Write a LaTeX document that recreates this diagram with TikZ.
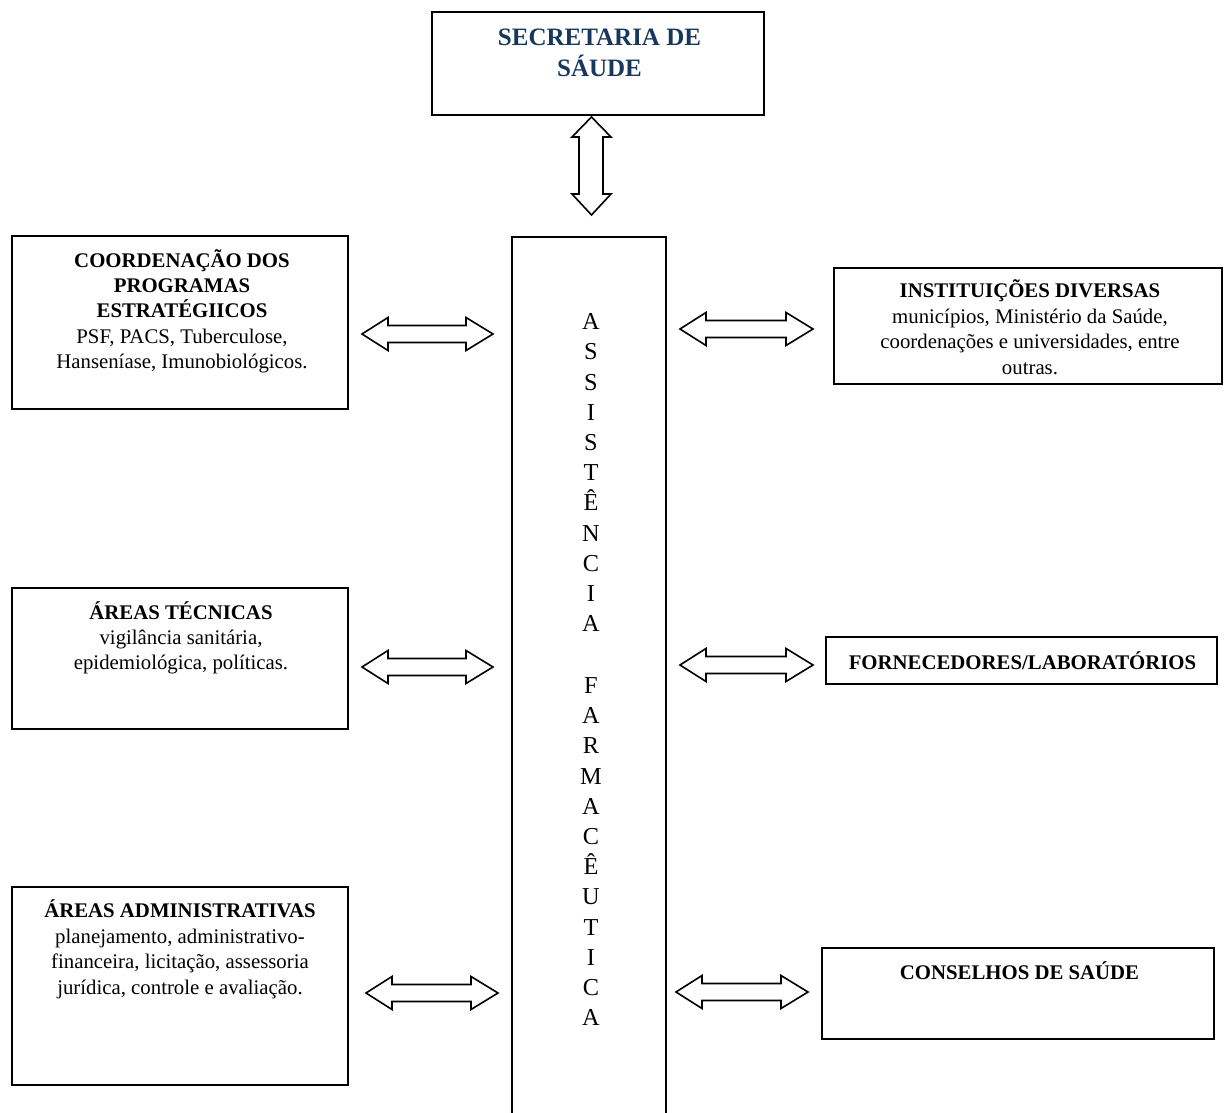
\documentclass[tikz,border=0pt]{standalone}
\usepackage{fontspec}
\setmainfont{Liberation Serif}
\usetikzlibrary{calc,positioning}
\definecolor{titleblue}{RGB}{23,55,94}
% block arrow with two heads, from tip #1 to tip #2 (same height)
\newcommand{\harrow}[2]{%
  \draw[blockarrow] let \p1=#1, \p2=#2 in
    (\x1,\y1) -- ++(26pt,16.5pt) -- ++(0,-8pt) -- ({\x2-27pt},{\y1+8.5pt})
    -- ++(0,8pt) -- (\x2,\y1) -- ++(-27pt,-16.5pt) -- ++(0,8pt)
    -- ({\x1+26pt},{\y1-8.5pt}) -- ++(0,-8pt) -- cycle;}

\begin{document}
\begin{tikzpicture}[x=1pt,y=-1pt]
  \tikzstyle{box} = [draw, line width=1.7pt, rectangle, inner sep=0pt]
  \tikzstyle{txt} = [align=center, inner sep=0pt, font=\fontsize{20.8}{25.3}\selectfont]
  \tikzstyle{blockarrow} = [line width=1.6pt, line join=miter, fill=white]
  \useasboundingbox (0,0) rectangle (1224,1113);

  % boxes
  \node[box, minimum width=332pt, minimum height=103pt] (sec) at (598,63.5) {};
  \node[box, minimum width=154pt, minimum height=900pt, anchor=north] (col) at (589,236) {};
  \node[box, minimum width=336pt, minimum height=173pt] (coord) at (180,322.5) {};
  \node[box, minimum width=388pt, minimum height=116pt] (inst) at (1028,326) {};
  \node[box, minimum width=336pt, minimum height=141pt] (tec) at (180,658.5) {};
  \node[box, minimum width=391pt, minimum height=47pt] (forn) at (1021.5,660.5) {};
  \node[box, minimum width=336pt, minimum height=198pt] (adm) at (180,986) {};
  \node[box, minimum width=392pt, minimum height=91pt] (cons) at (1018,993.5) {};

  % texts
  \node[txt, font=\fontsize{25}{31}\selectfont\bfseries, text=titleblue, below=10.3pt of sec.north, xshift=1.5pt] (sectxt)
    {\rule{0pt}{24pt}SECRETARIA DE\\ SÁUDE};
  \node[txt, font=\fontsize{24.3}{30.2}\selectfont, below=69.5pt of col.north, xshift=2pt] (coltxt)
    {\rule{0pt}{24pt}A\\ S\\ S\\ I\\ S\\ T\\ Ê\\ N\\ C\\ I\\ A\\[31.5pt] F\\ A\\ R\\ M\\ A\\ C\\ Ê\\ U\\ T\\ I\\ C\\ A};
  \node[txt, below=12pt of coord.north, xshift=2pt] (coordtxt)
    {\rule{0pt}{20pt}\textbf{COORDENAÇÃO DOS}\\ \textbf{PROGRAMAS}\\ \textbf{ESTRATÉGIICOS}\\
     PSF, PACS, Tuberculose,\\ Hanseníase, Imunobiológicos.};
  \node[txt, font=\fontsize{20.8}{25.7}\selectfont, below=10pt of inst.north, xshift=2pt] (insttxt)
    {\rule{0pt}{20pt}\textbf{INSTITUIÇÕES DIVERSAS}\\ municípios, Ministério da Saúde,\\
     coordenações e universidades, entre\\ outras.};
  \node[txt, below=12pt of tec.north, xshift=1pt] (tectxt)
    {\rule{0pt}{20pt}\textbf{ÁREAS TÉCNICAS}\\ vigilância sanitária,\\ epidemiológica, políticas.};
  \node[txt, below=13pt of forn.north, xshift=1pt] (forntxt)
    {\rule{0pt}{20pt}\textbf{FORNECEDORES/LABORATÓRIOS}};
  \node[txt, font=\fontsize{20.8}{25.7}\selectfont, below=11pt of adm.north] (admtxt)
    {\rule{0pt}{20pt}\textbf{ÁREAS ADMINISTRATIVAS}\\ planejamento, administrativo-\\
     financeira, licitação, assessoria\\ jurídica, controle e avaliação.};
  \node[txt, below=12pt of cons.north, xshift=1.5pt] (constxt)
    {\rule{0pt}{20pt}\textbf{CONSELHOS DE SAÚDE}};

  % arrows
  \draw[blockarrow] (591.5,117) -- (611,137) -- (603,137) -- (603,194) -- (611,194)
    -- (591.5,215) -- (572,194) -- (579,194) -- (579,137) -- (572,137) -- cycle;
  \harrow{(362,334)}{(493,334)}
  \harrow{(680,329)}{(813,329)}
  \harrow{(362,667)}{(493,667)}
  \harrow{(680,665)}{(813,665)}
  \harrow{(366,993)}{(498,993)}
  \harrow{(676,992)}{(808,992)}
\end{tikzpicture}
\end{document}
